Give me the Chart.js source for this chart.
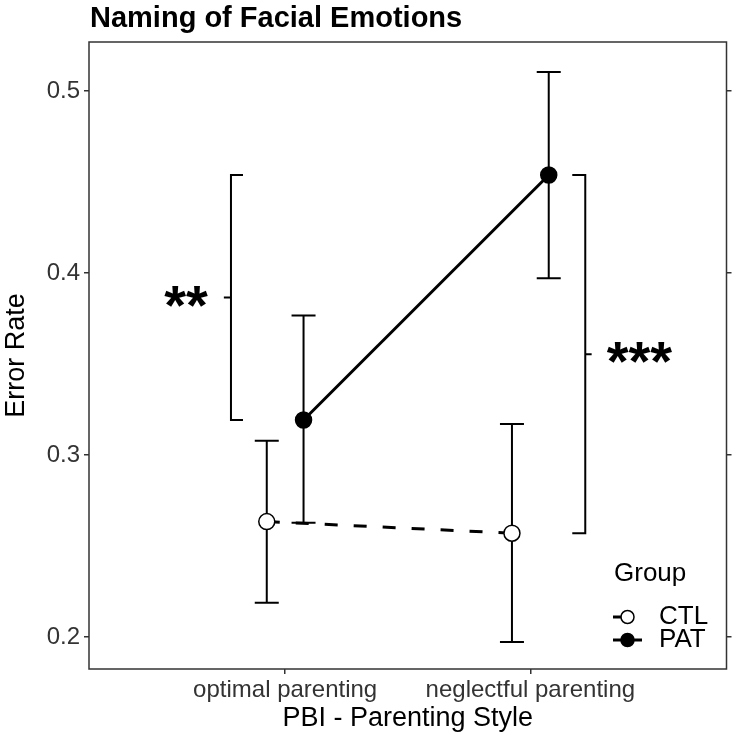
<!DOCTYPE html>
<html>
<head>
<meta charset="utf-8">
<script src="https://cdn.jsdelivr.net/npm/chart.js@4"></script>
<style>
  body { margin: 0; background: #fff; }
  canvas { display: block; }
</style>
</head>
<body>
<canvas id="myChart" width="736" height="736"></canvas>
<script>
const categories = ["optimal parenting", "neglectful parenting"];
const yTicks = [0.2, 0.3, 0.4, 0.5];

// group means and error bar ends
const ctlMean = [0.2634, 0.2570];
const ctlLow = [0.2188, 0.1973];
const ctlHigh = [0.3078, 0.3170];
const patMean = [0.3192, 0.4538];
const patLow = [0.2628, 0.3971];
const patHigh = [0.3766, 0.5104];

const dodge = 0.075;
const FONT = "Liberation Sans, Arial, sans-serif";
const INK = "#333";

function points(vals, shift) {
    return vals.map((v, i) => ({ x: i + 1 + shift, y: v }));
}

const extras = {
    id: "extras",
    beforeDatasetsDraw(chart) {
        const c = chart.ctx;
        const x = chart.scales.x;
        const y = chart.scales.y;
        c.save();
        c.strokeStyle = "#000";
        c.lineWidth = 2;
        const bars = [[ctlLow, ctlHigh, -dodge], [patLow, patHigh, dodge]];
        bars.forEach(([lo, hi, shift]) => {
            lo.forEach((v, i) => {
                const px = x.getPixelForValue(i + 1 + shift);
                const y1 = y.getPixelForValue(v);
                const y2 = y.getPixelForValue(hi[i]);
                c.beginPath();
                c.moveTo(px, y1); c.lineTo(px, y2);
                c.moveTo(px - 12, y1); c.lineTo(px + 12, y1);
                c.moveTo(px - 12, y2); c.lineTo(px + 12, y2);
                c.stroke();
            });
        });
        c.restore();
    },
    afterDraw(chart) {
        const c = chart.ctx;
        const x = chart.scales.x;
        const y = chart.scales.y;
        const a = chart.chartArea;
        c.save();

        // panel border
        c.strokeStyle = INK;
        c.lineWidth = 1.5;
        c.strokeRect(a.left, a.top, a.right - a.left, a.bottom - a.top);

        // title
        c.fillStyle = "#000";
        c.font = "bold 29px " + FONT;
        c.textAlign = "left";
        c.textBaseline = "alphabetic";
        c.fillText("Naming of Facial Emotions", a.left + 1, 27);

        // significance brackets
        c.strokeStyle = "#000";
        c.lineWidth = 2;
        const bracket = (xv, xArm, xMid, v1, v2, stars, xStar) => {
            const bx = x.getPixelForValue(xv);
            const ax = x.getPixelForValue(xArm);
            const mx = x.getPixelForValue(xMid);
            const t = y.getPixelForValue(v1);
            const b = y.getPixelForValue(v2);
            const m = (t + b) / 2;
            c.beginPath();
            c.moveTo(ax, t); c.lineTo(bx, t); c.lineTo(bx, b); c.lineTo(ax, b);
            c.moveTo(bx, m); c.lineTo(mx, m);
            c.stroke();
            c.font = "bold 56px " + FONT;
            c.textAlign = "center";
            c.fillText(stars, x.getPixelForValue(xStar), m + 26);
        };
        bracket(0.779, 0.828, 0.75, patMean[1], patMean[0], "**", 0.596);
        bracket(2.224, 2.171, 2.25, patMean[1], ctlMean[1], "***", 2.445);

        // legend
        c.font = "26px " + FONT;
        c.textAlign = "left";
        c.textBaseline = "middle";
        c.fillStyle = "#000";
        c.fillText("Group", 614, 574);
        const keys = [["CTL", "#fff", [13, 16], 617], ["PAT", "#000", [], 640]];
        keys.forEach(([lab, fill, dash, ky]) => {
            c.setLineDash(dash);
            c.lineWidth = 3;
            c.beginPath();
            c.moveTo(613, ky); c.lineTo(642, ky);
            c.stroke();
            c.setLineDash([]);
            c.beginPath();
            c.arc(627.5, ky, 6.5, 0, Math.PI * 2);
            c.fillStyle = fill;
            c.fill();
            c.lineWidth = 1.5;
            c.stroke();
            c.fillStyle = "#000";
            c.fillText(lab, 659, ky);
        });
        c.restore();
    }
};

const tickFont = { family: FONT, size: 24 };
const yMin = 0.1824, yMax = 0.5269;

const ctx = document.getElementById("myChart");

const chart = new Chart(ctx, {
    type: "line",
    data: {
        datasets: [{
            label: "CTL",
            data: points(ctlMean, -dodge),
            borderColor: "#000",
            borderWidth: 3,
            borderDash: [13, 16],
            pointRadius: 8,
            pointBackgroundColor: "#fff",
            pointBorderColor: "#000",
            pointBorderWidth: 1.5
        }, {
            label: "PAT",
            data: points(patMean, dodge),
            borderColor: "#000",
            borderWidth: 3,
            pointRadius: 8,
            pointBackgroundColor: "#000",
            pointBorderColor: "#000",
            pointBorderWidth: 1.5
        }]
    },
    options: {
        responsive: false,
        animation: false,
        devicePixelRatio: 1,
        layout: { padding: { top: 42, left: 0, right: 0, bottom: 0 } },
        scales: {
            x: {
                type: "linear",
                min: 0.2,
                max: 2.8,
                afterBuildTicks: s => { s.ticks = categories.map((_, i) => ({ value: i + 1 })); },
                afterFit: s => { s.height = 67; },
                ticks: {
                    callback: (v, i) => categories[i],
                    font: tickFont,
                    color: INK,
                    padding: 2,
                    maxRotation: 0,
                    autoSkip: false
                },
                grid: { drawOnChartArea: false, tickLength: 5, color: INK, lineWidth: 1.5 },
                border: { display: false },
                title: {
                    display: true,
                    text: "PBI - Parenting Style",
                    font: { family: FONT, size: 27 },
                    color: "#000",
                    padding: { top: 0, bottom: 1 }
                }
            },
            y: {
                min: yMin,
                max: yMax,
                afterBuildTicks: s => { s.ticks = yTicks.map(v => ({ value: v })); },
                afterFit: s => { s.width = 89; },
                ticks: {
                    callback: v => v.toFixed(1),
                    font: tickFont,
                    color: INK,
                    padding: 4
                },
                grid: { drawOnChartArea: false, tickLength: 5, color: INK, lineWidth: 1.5 },
                border: { display: false },
                title: {
                    display: true,
                    text: "Error Rate",
                    font: { family: FONT, size: 27 },
                    color: "#000",
                    padding: 0
                }
            },
            y2: {
                position: "right",
                min: yMin,
                max: yMax,
                afterBuildTicks: s => { s.ticks = yTicks.map(v => ({ value: v })); },
                afterFit: s => { s.width = 9; },
                ticks: { callback: () => "", padding: 0 },
                grid: { drawOnChartArea: false, tickLength: 5, color: INK, lineWidth: 1.5 },
                border: { display: false }
            }
        },
        plugins: {
            legend: { display: false },
            tooltip: { enabled: false }
        }
    },
    plugins: [extras]
});
</script>
</body>
</html>
